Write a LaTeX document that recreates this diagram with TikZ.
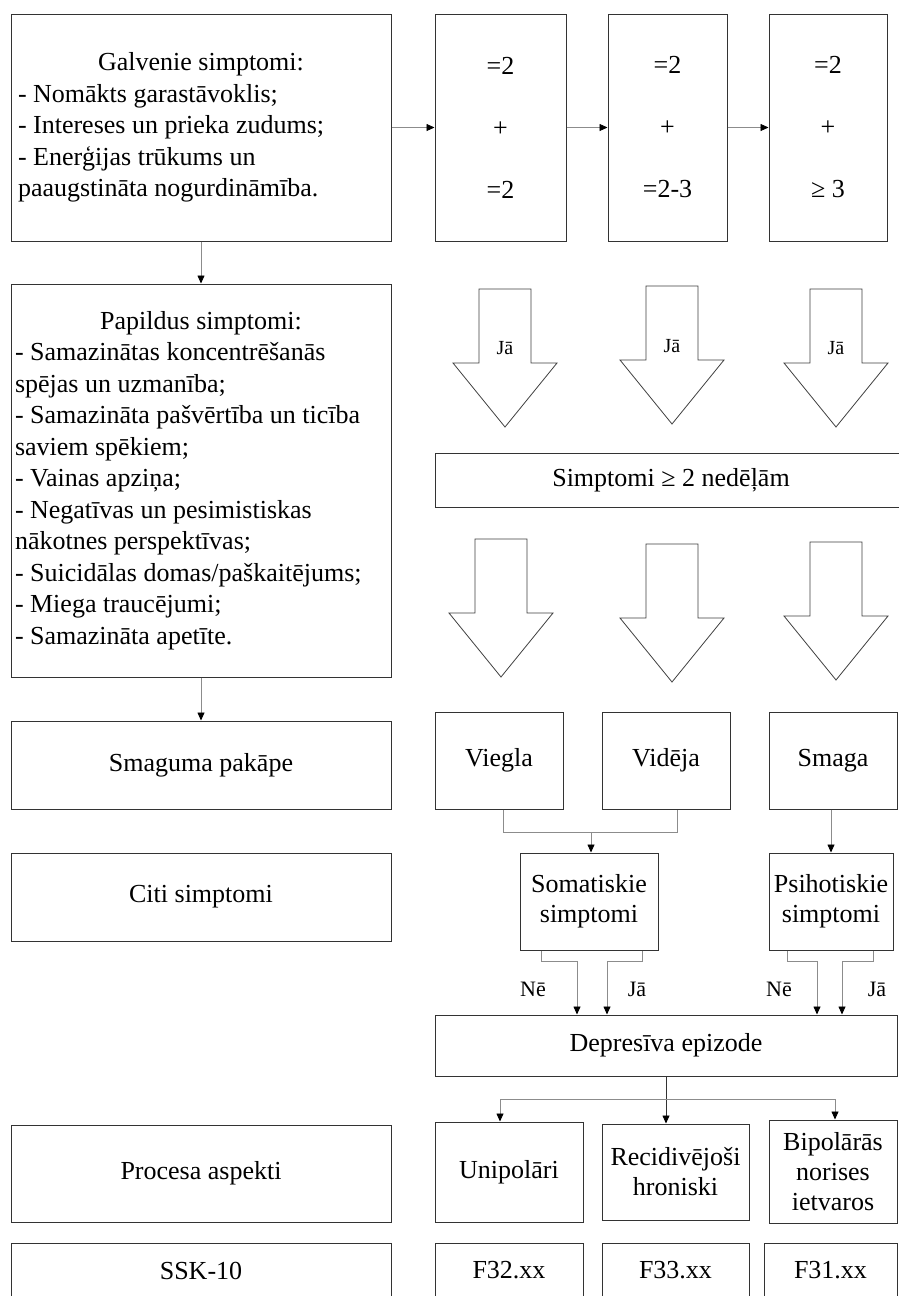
\documentclass[tikz,border=0pt]{standalone}
\usepackage{fontspec}
\setmainfont{Liberation Serif}
\usetikzlibrary{arrows.meta}
\newcommand\mainsz{\fontsize{26}{31.5}\selectfont}
\newcommand\twosz{\fontsize{26}{30}\selectfont}
\newcommand\eqsz{\fontsize{26}{62}\selectfont}
\newcommand\lblsz{\fontsize{22}{24}\selectfont}
\newcommand\arrsz{\fontsize{20}{22}\selectfont}
\tikzset{
  box/.style={draw=black!80, line width=1pt, inner sep=2pt, align=center, font=\mainsz, fill=white},
  conn/.style={draw=black!45, line width=0.8pt},
  arr/.style={conn, -{Triangle[length=8pt,width=7pt,color=black]}},
  hollowline/.style={draw=black!75, line width=0.8pt, fill=white},
  hollow/.pic={\draw[hollowline] (-26,0) -- (26,0) -- (26,74) -- (52,74) -- (0,138) -- (-52,74) -- (-26,74) -- cycle;},
  lbl/.style={font=\lblsz, inner sep=0pt},
  arrlbl/.style={font=\arrsz, inner sep=0pt}
}
\begin{document}
\begin{tikzpicture}[x=1pt,y=-1pt]
\useasboundingbox (0,0) rectangle (899,1296);
\fill[white] (0,0) rectangle (899,1296);
\clip (0,0) rectangle (899,1296);

% left column
\node[box, minimum width=380pt, minimum height=227pt] (gal) at (201,127.5)
  {\parbox{366pt}{\mainsz\centering Galvenie simptomi:\par\raggedright
   - Nomākts garastāvoklis;\\
   - Intereses un prieka zudums;\\
   - Enerģijas trūkums un\\
   paaugstināta nogurdināmība.}};
\node[box, minimum width=380pt, minimum height=393pt] (pap) at (201,480.5)
  {\parbox{372pt}{\mainsz\centering Papildus simptomi:\par\raggedright
   - Samazinātas koncentrēšanās\\
   spējas un uzmanība;\\
   - Samazināta pašvērtība un ticība\\
   saviem spēkiem;\\
   - Vainas apziņa;\\
   - Negatīvas un pesimistiskas\\
   nākotnes perspektīvas;\\
   - Suicidālas domas/paškaitējums;\\
   - Miega traucējumi;\\
   - Samazināta apetīte.}};
\node[box, minimum width=380pt, minimum height=88pt] (sma) at (201,765) {Smaguma pakāpe};
\node[box, minimum width=380pt, minimum height=88pt] (citi) at (201,897) {Citi simptomi};
\node[box, minimum width=380pt, minimum height=97pt] (proc) at (201,1173.5) {Procesa aspekti};
\node[box, minimum width=380pt, minimum height=55pt] (ssk) at (201,1270.5) {SSK-10};

% top right boxes
\node[box, font=\eqsz, minimum width=131pt, minimum height=227pt] (b1) at (500.5,127.5) {=2\\+\\=2};
\node[box, font=\eqsz, minimum width=119pt, minimum height=227pt] (b2) at (667.5,127.5) {=2\\+\\=2-3};
\node[box, font=\eqsz, minimum width=118pt, minimum height=227pt] (b3) at (828,127.5) {=2\\+\\≥ 3};

\draw[arr] (gal.east) -- (b1.west);
\draw[arr] (b1.east) -- (b2.west);
\draw[arr] (b2.east) -- (b3.west);
\draw[arr] (gal.south) -- (pap.north);
\draw[arr] (pap.south) -- (sma.north);

% hollow arrows row 1
\pic at (505,289) {hollow};
\pic at (672,286) {hollow};
\pic at (836,289) {hollow};
\node[arrlbl] (ja1) at (505,348) {Jā};
\node[arrlbl] (ja2) at (672,346) {Jā};
\node[arrlbl] (ja3) at (836,348) {Jā};

\node[box, minimum width=472pt, minimum height=54pt] (simp) at (671,480) {Simptomi ≥ 2 nedēļām};

% hollow arrows row 2
\pic at (501,539) {hollow};
\pic at (672,544) {hollow};
\pic at (836,542) {hollow};

% severity
\node[box, minimum width=128pt, minimum height=97pt] (viegla) at (499,760.5) {Viegla};
\node[box, minimum width=128pt, minimum height=97pt] (videja) at (666,760.5) {Vidēja};
\node[box, minimum width=128pt, minimum height=97pt] (smaga) at (833,760.5) {Smaga};

\node[box, font=\twosz, minimum width=138pt, minimum height=97pt] (soma) at (589,901.5) {Somatiskie\\simptomi};
\node[box, font=\twosz, minimum width=124pt, minimum height=97pt] (psih) at (831,901.5) {Psihotiskie\\simptomi};

\coordinate (j1) at (591,832);
\draw[conn] ([xshift=4pt]viegla.south) |- (j1) -| ([xshift=11pt]videja.south);
\draw[arr] (j1) -- (j1 |- soma.north);
\draw[arr] (smaga.south -| psih.north) -- (psih.north);

\node[box, minimum width=462pt, minimum height=61pt] (dep) at (666,1045.5) {Depresīva epizode};

\draw[arr] ([xshift=-48pt]soma.south) -- ++(0,11) -| ([xshift=-89pt]dep.north);
\draw[arr] ([xshift=53pt]soma.south) -- ++(0,11) -| ([xshift=-59pt]dep.north);
\draw[arr] ([xshift=-44pt]psih.south) -- ++(0,11) -| ([xshift=151pt]dep.north);
\draw[arr] ([xshift=42pt]psih.south) -- ++(0,11) -| ([xshift=176pt]dep.north);

\node[lbl] (ne1) at (533,989) {Nē};
\node[lbl] (ja4) at (637,989) {Jā};
\node[lbl] (ne2) at (779,989) {Nē};
\node[lbl] (ja5) at (877,989) {Jā};

% process aspects
\node[box, minimum width=148pt, minimum height=100pt] (uni) at (509,1172) {Unipolāri};
\node[box, font=\twosz, minimum width=147pt, minimum height=96pt] (rec) at (675.5,1172) {Recidivējoši\\hroniski};
\node[box, font=\twosz, minimum width=128pt, minimum height=103pt] (bip) at (833,1171.5) {Bipolārās\\norises\\ietvaros};

\coordinate (j2) at (666,1099);
\draw[draw=black!80, line width=0.8pt, -{Triangle[length=8pt,width=7pt,color=black]}] (dep.south) -- (dep.south |- rec.north);
\draw[arr] (j2) -| ([xshift=-9pt]uni.north);
\draw[arr] (j2) -| ([xshift=2pt]bip.north);

\node[box, minimum width=148pt, minimum height=55pt] (f32) at (509,1270.5) {F32.xx};
\node[box, minimum width=147pt, minimum height=55pt] (f33) at (675.5,1270.5) {F33.xx};
\node[box, minimum width=133pt, minimum height=55pt] (f31) at (830.5,1270.5) {F31.xx};
\end{tikzpicture}
\end{document}
